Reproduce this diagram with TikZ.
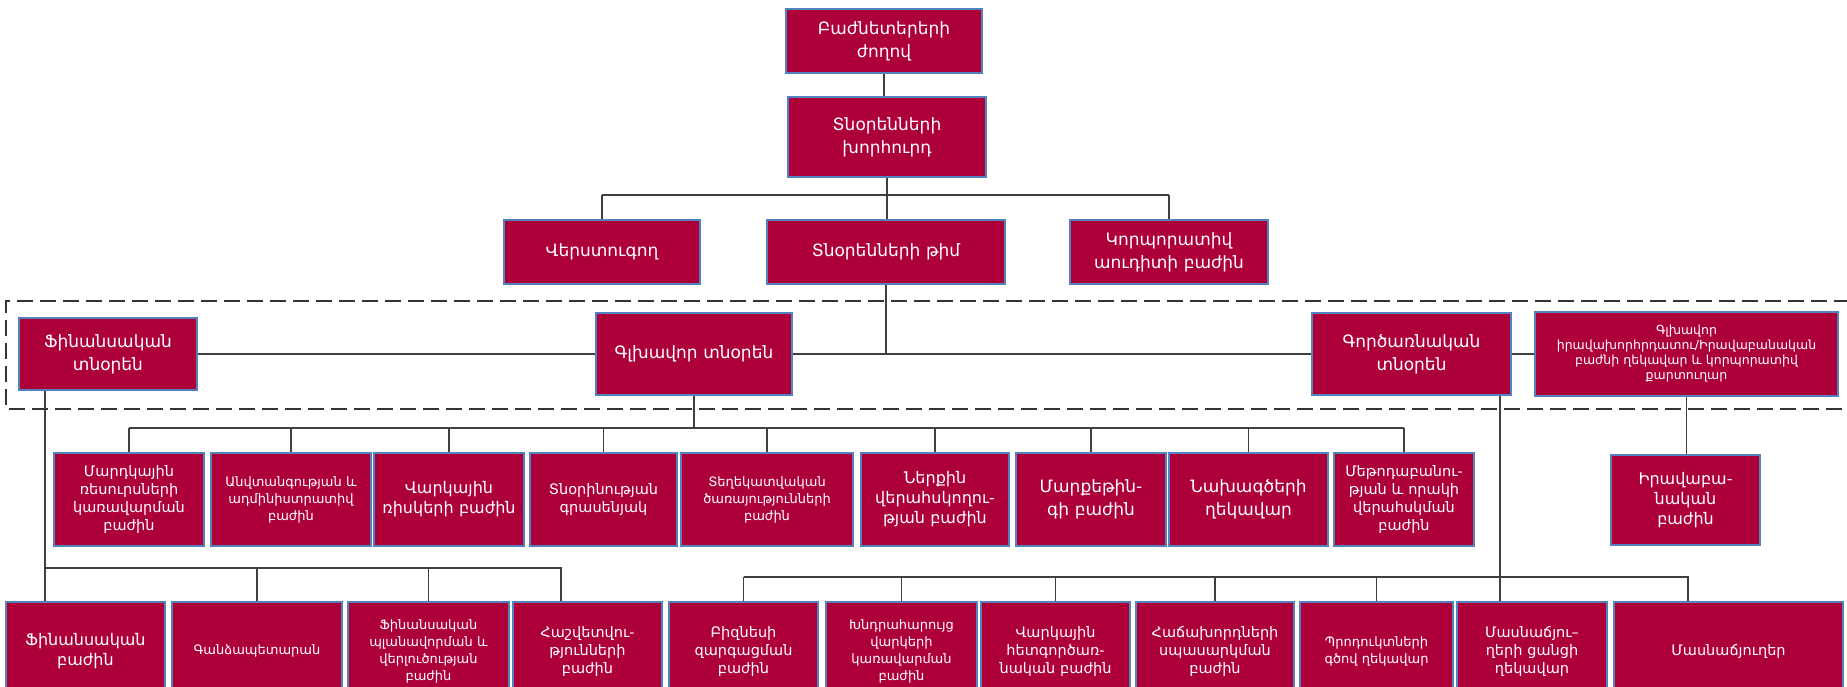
\documentclass[tikz,border=0pt]{standalone}
\usepackage{fontspec}
\setmainfont{DejaVu Sans}
\usepackage{tikz}
\usetikzlibrary{calc}
\definecolor{unitfill}{RGB}{174,0,56}
\definecolor{unitedge}{RGB}{84,130,190}
\colorlet{linkcol}{black!75}
% box from its corners: [font style]{name}{x1}{y1}{x2}{y2}{text}
\newcommand{\unitbox}[7][]{%
  \pgfmathsetmacro\unitw{#5-#3-8}%
  \pgfmathsetmacro\unith{#6-#4}%
  \node[unit, #1, text width=\unitw pt, minimum height=\unith pt] (#2) at ({(#3+#5)/2}, {(#4+#6)/2}) {#7};%
}

\begin{document}
\begin{tikzpicture}[x=1pt, y=-1pt,
    unit/.style={draw=unitedge, line width=1.2pt, fill=unitfill, text=white, align=center,
      inner xsep=4pt, inner ysep=0pt, font=\fontsize{14.5}{18}\selectfont},
    big/.style={font=\fontsize{17}{23}\selectfont},
    large/.style={font=\fontsize{16}{20}\selectfont},
    mid/.style={font=\fontsize{14.5}{18}\selectfont},
    small/.style={font=\fontsize{13}{17}\selectfont},
    tiny/.style={font=\fontsize{12.5}{15}\selectfont},
    link/.style={draw=linkcol, line width=1.2pt}]
  \useasboundingbox (0,0) rectangle (1847,687);

  \draw[line width=1.3pt, black!80, dash pattern=on 16pt off 7pt] (1850,301) -| (6,409) -- (1850,409);

  \coordinate (busthree) at (0,195);
  \coordinate (busfive) at (0,428);
  \coordinate (busfinance) at (0,568);
  \coordinate (busoper) at (0,577);
  \coordinate (cfodrop) at (45,0);
  \coordinate (reportdrop) at (561,0);
  \coordinate (coodrop) at (1500,0);
  \coordinate (branchdrop) at (1688,0);

  % governance
  \unitbox[big]{holders}{786}{9}{982}{73}{Բաժնետերերի\\ժողով}
  \unitbox[big]{board}{788}{97}{986}{177}{Տնօրենների\\խորհուրդ}
  \unitbox[big]{auditor}{504}{220}{700}{284}{Վերստուգող}
  \unitbox[big]{team}{767}{220}{1005}{284}{Տնօրենների թիմ}
  \unitbox[big]{corpaudit}{1070}{220}{1268}{284}{Կորպորատիվ\\աուդիտի բաժին}

  % directors
  \unitbox[big]{cfo}{19}{318}{197}{390}{Ֆինանսական\\տնօրեն}
  \unitbox[big]{ceo}{596}{313}{792}{395}{Գլխավոր տնօրեն}
  \unitbox[big]{coo}{1312}{313}{1511}{395}{Գործառնական\\տնօրեն}
  \unitbox[tiny]{counsel}{1535}{312}{1838}{396}{Գլխավոր\\իրավախորհրդատու/Իրավաբանական\\բաժնի ղեկավար և կորպորատիվ\\քարտուղար}

  % under the CEO
  \unitbox[mid]{hr}{54}{453}{204}{546}{Մարդկային\\ռեսուրսների\\կառավարման\\բաժին}
  \unitbox[small]{security}{211}{453}{371}{546}{Անվտանգության և\\ադմինիստրատիվ\\բաժին}
  \unitbox[large]{creditrisk}{374}{453}{524}{546}{Վարկային\\ռիսկերի բաժին}
  \unitbox[mid]{office}{530}{453}{677}{546}{Տնօրինության\\գրասենյակ}
  \unitbox[small]{itdept}{681}{453}{853}{546}{Տեղեկատվական\\ծառայությունների\\բաժին}
  \unitbox[large]{control}{861}{453}{1009}{546}{Ներքին\\վերահսկողու-\\թյան բաժին}
  \unitbox[big]{marketing}{1016}{453}{1166}{546}{Մարքեթին-\\գի բաժին}
  \unitbox[big]{projects}{1169}{453}{1328}{546}{Նախագծերի\\ղեկավար}
  \unitbox[mid]{method}{1334}{453}{1474}{546}{Մեթոդաբանու-\\թյան և որակի\\վերահսկման\\բաժին}
  \unitbox[large]{legal}{1611}{455}{1760}{545}{Իրավաբա-\\նական\\բաժին}

  % finance and operations
  \unitbox[large]{finance}{6}{602}{165}{700}{Ֆինանսական\\բաժին}
  \unitbox[small]{treasury}{172}{602}{342}{700}{Գանձապետարան}
  \unitbox[small]{planning}{348}{602}{509}{700}{Ֆինանսական\\պլանավորման և\\վերլուծության\\բաժին}
  \unitbox[mid]{reporting}{513}{602}{662}{700}{Հաշվետվու-\\թյունների\\բաժին}
  \unitbox[mid]{bizdev}{669}{602}{818}{700}{Բիզնեսի\\զարգացման\\բաժին}
  \unitbox[small]{problemloans}{826}{602}{977}{700}{Խնդրահարույց\\վարկերի\\կառավարման\\բաժին}
  \unitbox[mid]{postcredit}{981}{602}{1130}{700}{Վարկային\\հետգործառ-\\նական բաժին}
  \unitbox[mid]{clients}{1136}{602}{1294}{700}{Հաճախորդների\\սպասարկման\\բաժին}
  \unitbox[small]{products}{1300}{602}{1453}{700}{Պրոդուկտների\\գծով ղեկավար}
  \unitbox[mid]{network}{1457}{602}{1607}{700}{Մասնաճյու–\\ղերի ցանցի\\ղեկավար}
  \unitbox[mid]{branches}{1614}{602}{1843}{700}{Մասնաճյուղեր}

  % connectors
  \draw[link] (holders.south) -- (holders.south |- board.north);
  \draw[link] (board.south) -- (board.south |- team.north);
  \draw[link] (auditor.north |- busthree) -- (corpaudit.north |- busthree);
  \foreach \u in {auditor, corpaudit}
    \draw[link] (\u.north) -- (\u.north |- busthree);
  \draw[link] (team.south) -- (team.south |- ceo.east);
  \draw[link] (cfo.east) -- (ceo.west) (ceo.east) -- (coo.west) (coo.east) -- (counsel.west);

  \draw[link] (ceo.south) -- (ceo.south |- busfive);
  \draw[link] (hr.north |- busfive) -- (method.north |- busfive);
  \foreach \u in {hr, security, creditrisk, office, itdept, control, marketing, projects, method}
    \draw[link] (\u.north) -- (\u.north |- busfive);
  \draw[link] (counsel.south) -- (counsel.south |- legal.north);

  \draw[link] (cfodrop |- cfo.south) -- (cfodrop |- finance.north);
  \draw[link] (cfodrop |- busfinance) -- (reportdrop |- busfinance) -- (reportdrop |- reporting.north);
  \foreach \u in {treasury, planning}
    \draw[link] (\u.north) -- (\u.north |- busfinance);

  \draw[link] (coodrop |- coo.south) -- (coodrop |- network.north);
  \draw[link] (bizdev.north |- busoper) -- (branchdrop |- busoper) -- (branchdrop |- branches.north);
  \foreach \u in {bizdev, problemloans, postcredit, clients, products}
    \draw[link] (\u.north) -- (\u.north |- busoper);
\end{tikzpicture}
\end{document}
